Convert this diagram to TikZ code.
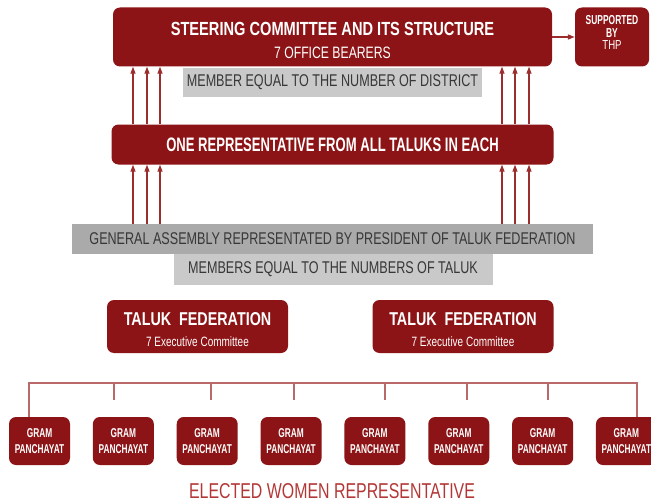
\documentclass[tikz,border=0pt]{standalone}
\usepackage{fontspec}
\setmainfont{Liberation Sans}
\newfontfamily\headfont[FakeStretch=0.77]{Liberation Sans}
\newfontfamily\condfont[FakeStretch=0.65]{Liberation Sans}
\newfontfamily\midfont[FakeStretch=0.67]{Liberation Sans}
\newfontfamily\narrowfont[FakeStretch=0.74]{Liberation Sans}
\usetikzlibrary{arrows.meta}
\definecolor{boxred}{RGB}{140,20,22}
\definecolor{linered}{RGB}{155,45,45}
\definecolor{treered}{RGB}{185,105,105}
\definecolor{darkgrey}{RGB}{170,170,170}
\definecolor{lightgrey}{RGB}{201,201,201}
\definecolor{greytext}{RGB}{55,55,55}
\definecolor{womenred}{RGB}{180,55,55}

\begin{document}
\begin{tikzpicture}[x=1pt,y=-1pt,
  redbox/.style={fill=boxred,rounded corners=7pt,text=white,inner sep=0pt,align=center},
  greyband/.style={fill=#1,text=greytext,inner sep=0pt,font=\narrowfont\fontsize{17}{18}\selectfont},
  uparrow/.style={draw=linered,line width=1.2pt,-{Triangle[length=7pt,width=5pt]}},
  treeline/.style={draw=treered,line width=1.1pt},
  gp/.style={redbox,minimum width=61pt,minimum height=48pt,font=\condfont\bfseries\fontsize{12.8}{16.5}\selectfont}
]
\useasboundingbox (0,0) rectangle (651,503);

\node[redbox,minimum width=439pt,minimum height=59pt,font=\fontsize{16.5}{23.5}\selectfont] (steer) at (332.5,37)
  {{\headfont\bfseries\fontsize{19}{23}\selectfont\rule{0pt}{20pt}STEERING COMMITTEE AND ITS STRUCTURE}\\
   {\narrowfont 7 OFFICE BEARERS}};
\node[redbox,minimum width=74pt,minimum height=59pt,font=\fontsize{13}{12.5}\selectfont] (thp) at (612,37)
  {{\condfont\bfseries SUPPORTED}\\{\condfont\bfseries BY}\\{\narrowfont THP\rule[-9pt]{0pt}{9pt}}};
\draw[uparrow,line width=1.5pt] (steer.east) -- (thp.west);

\node[greyband=lightgrey,minimum width=299pt,minimum height=29pt] (district) at (332.5,82.5) {MEMBER EQUAL TO THE NUMBER OF DISTRICT};

\node[redbox,minimum width=442pt,minimum height=40pt,font=\midfont\bfseries\fontsize{19.5}{22}\selectfont] (onerep) at (332.5,144.5)
  {ONE REPRESENTATIVE FROM ALL TALUKS IN EACH};

\node[greyband=darkgrey,minimum width=521pt,minimum height=30pt] (ga) at (332.5,239)
  {GENERAL ASSEMBLY REPRESENTATED BY PRESIDENT OF TALUK FEDERATION};
\node[greyband=lightgrey,minimum width=319pt,minimum height=31pt] (members) at (333,269.5)
  {MEMBERS EQUAL TO THE NUMBERS OF TALUK};

\foreach \ax in {133,147,160,502,515,529} {
  \draw[uparrow] (onerep.north -| \ax,0) -- (steer.south -| \ax,0);
  \draw[uparrow] (ga.north -| \ax,0) -- (onerep.south -| \ax,0);
}

\node[redbox,minimum width=181pt,minimum height=53pt,font=\fontsize{13.5}{21.5}\selectfont] (taluk1) at (197.5,326.5)
  {{\headfont\bfseries\fontsize{18.6}{22}\selectfont\rule{0pt}{19pt}TALUK\ \ FEDERATION}\\{\narrowfont 7 Executive Committee}};
\node[redbox,minimum width=181pt,minimum height=53pt,font=\fontsize{13.5}{21.5}\selectfont] (taluk2) at (463,326.5)
  {{\headfont\bfseries\fontsize{18.6}{22}\selectfont\rule{0pt}{19pt}TALUK\ \ FEDERATION}\\{\narrowfont 7 Executive Committee}};

\foreach \i in {1,...,8}
  \node[gp] (gp\i) at ({39.5+83.85*(\i-1)},441) {GRAM\\PANCHAYAT};

\draw[treeline] (gp1.north -| 29,0) -- (29,383) -- (637,383) -- (gp8.north -| 637,0);
\foreach \tx in {114,211,294,385,467,548}
  \draw[treeline] (\tx,383) -- (\tx,400);

\node[font=\narrowfont\fontsize{21.5}{22}\selectfont,text=womenred] (elected) at (332,491) {ELECTED WOMEN REPRESENTATIVE};
\end{tikzpicture}
\end{document}
